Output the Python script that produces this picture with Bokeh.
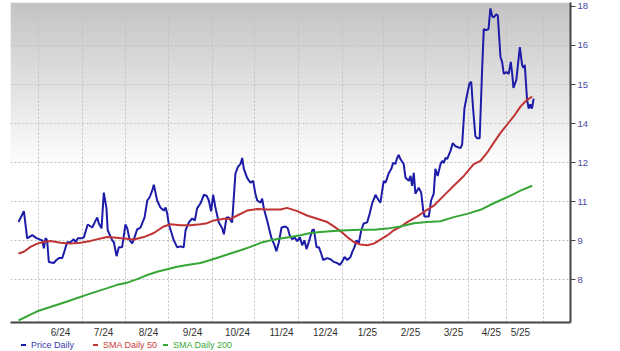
import numpy as np
from bokeh.plotting import figure
from bokeh.models import Range1d, FixedTicker, Div
from bokeh.layouts import column
from bokeh.embed import file_html
from bokeh.resources import INLINE

# ---- data (x = trading-day index, y = price) ----
price_day = [0, 2.6, 4.2, 6.7, 8.7, 11.5, 12.3, 13.1, 13.9, 14.7, 17.1, 18.4, 19.6, 21.2, 22.0, 23.6, 25.2, 26.8,
             27.7, 28.8, 30.9, 31.7, 33.6, 35.8, 37.0, 38.2, 39.0, 40.3, 41.4, 42.7, 43.3, 45.5, 46.3, 47.6, 48.7,
             50.3, 51.9, 52.8, 54.0, 55.2, 56.3, 57.6, 59.2, 61.2, 62.5, 63.6, 64.9, 65.7, 66.5, 67.3, 68.9, 70.5,
             71.4, 72.2, 73.0, 75.4, 77.0, 78.6, 80.2, 81.1, 82.7, 84.3, 85.6, 86.7, 88.3, 90.0, 91.3, 92.4, 93.5,
             94.5, 95.6, 97.2, 98.9, 99.7, 101.0, 102.1, 103.7, 105.3, 106.5, 107.8, 108.6, 109.4, 111.0, 112.6,
             113.9, 115.0, 115.9, 117.5, 118.3, 119.1, 120.7, 122.7, 124.3, 125.2, 126.4, 127.7, 129.6, 130.7,
             131.7, 132.9, 134.0, 135.3, 136.6, 137.7, 138.8, 139.8, 140.9, 142.6, 143.4, 144.7, 145.8, 146.9,
             147.9, 149.9, 151.5, 153.1, 154.7, 156.0, 157.1, 158.3, 159.6, 161.2, 162.0, 163.1, 164.1, 165.2,
             166.4, 167.6, 169.3, 170.5, 171.7, 173.3, 174.9, 175.7, 177.3, 178.2, 179.8, 181.0, 181.9, 183.0,
             183.8, 184.6, 185.4, 187.0, 187.9, 189.5, 190.3, 191.1, 191.9, 192.7, 194.3, 195.5, 196.5, 197.1,
             199.2, 200.3, 201.6, 202.4, 203.5, 204.9, 205.7, 206.5, 207.3, 208.1, 209.7, 210.8, 212.1, 214.6,
             215.4, 216.5, 217.8, 218.9, 219.8, 220.7, 221.8, 222.7, 223.9, 225.1, 225.9, 227.0, 228.2, 229.1,
             230.0, 230.7, 232.0, 232.7, 234.0, 234.8, 235.6, 236.9, 238.0, 239.0, 239.7, 240.3, 241.7, 243.4,
             244.5, 245.1, 245.8, 246.9, 247.7, 248.5, 249.3, 250.1]
price_val = [10.01, 10.41, 9.41, 9.53, 9.42, 9.34, 9.05, 9.42, 9.34, 8.55, 8.51, 8.62, 8.69, 8.69, 8.87, 9.27, 9.27,
             9.38, 9.27, 9.42, 9.42, 9.45, 9.92, 9.81, 10.00, 10.18, 9.96, 9.78, 11.09, 10.51, 9.71, 9.34, 9.27,
             8.76, 9.09, 9.09, 9.92, 9.78, 9.34, 9.23, 9.45, 9.74, 9.81, 10.18, 10.80, 10.91, 11.16, 11.38, 11.09,
             10.80, 10.54, 10.43, 10.54, 10.32, 9.92, 9.34, 9.09, 9.12, 9.09, 9.71, 10.00, 10.14, 10.07, 10.51,
             10.69, 11.01, 10.98, 10.80, 10.40, 11.01, 10.54, 10.00, 9.78, 9.56, 10.18, 10.18, 10.00, 11.78, 12.03,
             12.14, 12.36, 11.96, 11.63, 11.45, 11.52, 11.05, 10.80, 10.72, 10.87, 10.51, 10.07, 9.45, 9.16, 8.94,
             9.27, 9.81, 9.85, 9.78, 9.52, 9.38, 9.45, 9.31, 9.45, 9.16, 9.34, 9.02, 9.27, 9.71, 9.74, 9.09, 9.09,
             8.87, 8.62, 8.69, 8.65, 8.55, 8.51, 8.44, 8.55, 8.73, 8.62, 8.73, 8.91, 9.09, 9.34, 9.23, 9.71, 9.96,
             10.00, 10.32, 10.69, 11.01, 10.80, 10.72, 11.52, 11.45, 11.81, 11.96, 12.18, 12.14, 12.36, 12.47,
             12.32, 12.14, 11.63, 11.52, 11.70, 11.34, 11.81, 11.05, 11.27, 11.09, 10.43, 10.21, 10.21, 10.80,
             11.05, 11.96, 11.70, 12.14, 12.25, 12.18, 12.36, 12.32, 12.61, 12.90, 12.79, 12.72, 12.86, 14.17,
             14.68, 15.08, 15.15, 14.17, 13.16, 13.08, 13.08, 15.62, 17.08, 17.04, 17.08, 17.84, 17.55, 17.51,
             17.62, 17.58, 16.06, 15.88, 15.44, 15.51, 15.44, 15.88, 15.44, 14.93, 15.22, 16.42, 15.77, 15.66,
             15.77, 14.50, 14.17, 14.32, 14.17, 14.53]

sma50_day = [0, 2.6, 5.8, 9.1, 12.3, 15.5, 20.4, 25.2, 30.1, 35.0, 39.8, 43.1, 46.3, 51.1, 56.0, 60.8, 65.7, 70.5,
             73.8, 78.6, 83.5, 88.3, 91.6, 94.8, 99.7, 102.9, 106.2, 111.0, 115.9, 120.7, 127.2, 130.4, 135.3,
             140.1, 145.0, 149.9, 153.1, 156.3, 159.6, 162.8, 166.0, 169.3, 172.5, 175.7, 179.0, 182.2, 185.4,
             188.7, 193.5, 198.4, 201.6, 206.5, 211.3, 216.2, 221.0, 224.3, 227.5, 230.7, 234.0, 237.2, 240.4,
             243.7, 246.9, 249.4]
sma50_val = [8.86, 8.92, 9.10, 9.22, 9.28, 9.32, 9.25, 9.22, 9.25, 9.32, 9.41, 9.46, 9.44, 9.41, 9.37, 9.46, 9.61,
             9.85, 9.93, 9.89, 9.89, 9.93, 9.97, 10.07, 10.13, 10.13, 10.25, 10.43, 10.49, 10.47, 10.47, 10.53,
             10.41, 10.25, 10.13, 10.01, 9.85, 9.68, 9.46, 9.28, 9.19, 9.16, 9.22, 9.37, 9.52, 9.71, 9.83, 10.01,
             10.21, 10.46, 10.61, 10.98, 11.34, 11.70, 12.13, 12.25, 12.55, 12.91, 13.28, 13.58, 13.88, 14.24,
             14.49, 14.61]

sma200_day = [0, 4.2, 9.1, 13.9, 18.8, 23.6, 28.5, 33.3, 38.2, 43.1, 47.9, 52.8, 57.6, 62.5, 67.3, 72.2, 77.0,
              81.9, 88.3, 93.2, 98.1, 102.9, 107.8, 112.6, 117.5, 122.3, 127.2, 132.0, 136.9, 141.7, 146.6, 153.1,
              159.6, 166.0, 172.5, 179.0, 185.4, 191.9, 198.4, 204.9, 211.3, 217.8, 224.3, 230.7, 237.2, 243.7,
              249.4]
sma200_val = [6.41, 6.56, 6.74, 6.86, 6.98, 7.10, 7.23, 7.35, 7.47, 7.59, 7.71, 7.79, 7.92, 8.07, 8.19, 8.28, 8.37,
              8.44, 8.51, 8.62, 8.74, 8.86, 8.98, 9.10, 9.25, 9.34, 9.41, 9.46, 9.53, 9.61, 9.65, 9.68, 9.71, 9.73,
              9.73, 9.77, 9.85, 9.97, 10.01, 10.04, 10.19, 10.31, 10.46, 10.70, 10.92, 11.16, 11.34]

# month boundaries (grid) and month label positions on the trading-day axis
month_grid = [9.7, 31.1, 51.9, 72.8, 94.2, 114.6, 135.9, 157.3, 177.2, 197.6, 218.4, 236.9, 254.9]
month_label_pos = [20.4, 41.3, 63.1, 84.5, 106.3, 127.7, 149.0, 169.4, 190.3, 211.2, 229.6, 243.7]
month_labels = ["6/24", "7/24", "8/24", "9/24", "10/24", "11/24", "12/24", "1/25", "2/25", "3/25", "4/25", "5/25"]

y_tick_pos = [7.9, 9.33, 10.76, 12.19, 13.62, 15.05, 16.48, 17.91]
y_tick_labels = ["8", "9", "11", "12", "14", "15", "16", "18"]

legend_labels = ["Price Daily", "SMA Daily 50", "SMA Daily 200"]

FONT = "Liberation Sans"
BLUE = "#1c1ca8"
RED = "#c03434"
GREEN = "#36a636"
LINE_COLS = [BLUE, RED, GREEN]
TEXT_COLS = ["#3a3ab0", "#cc3c3c", "#3aa83a"]

Y_TOP = 18.055
p = figure(width=620, height=340, output_backend="svg", toolbar_location=None,
           x_range=Range1d(-3.9, 268.0), y_range=Range1d(6.33, Y_TOP),
           y_axis_location="right", min_border_left=10, min_border_right=50,
           min_border_top=2, min_border_bottom=17, margin=0)
p.outline_line_color = None
p.background_fill_color = "white"
p.border_fill_color = "white"

# gradient background (grey at the top fading to white)
n = 80
grey = np.linspace(255, 196, n).astype(np.uint32)
img = np.empty((n, 1), dtype=np.uint32)
view = img.view(dtype=np.uint8).reshape((n, 1, 4))
view[:, 0, 0] = grey
view[:, 0, 1] = grey
view[:, 0, 2] = grey
view[:, 0, 3] = 255
y_fade = 12.0
p.image_rgba(image=[img], x=-3.9, y=y_fade, dw=271.9, dh=Y_TOP - y_fade, level="image")

r_price = p.line(price_day, price_val, line_color=BLUE, line_width=2)
r_50 = p.line(sma50_day, sma50_val, line_color=RED, line_width=2)
r_200 = p.line(sma200_day, sma200_val, line_color=GREEN, line_width=2)

# axes
xa = p.xaxis[0]
xa.ticker = FixedTicker(ticks=month_label_pos)
xa.major_label_overrides = {v: l for v, l in zip(month_label_pos, month_labels)}
xa.major_tick_out = 0
xa.major_tick_in = 0
xa.minor_tick_out = 0
xa.minor_tick_in = 0
xa.axis_line_color = "#444444"
xa.axis_line_width = 2
xa.major_label_text_font = FONT
xa.major_label_text_font_size = "10px"
xa.major_label_text_color = "#333333"
xa.major_label_standoff = 4

ya = p.yaxis[0]
ya.ticker = FixedTicker(ticks=y_tick_pos)
ya.major_label_overrides = {v: l for v, l in zip(y_tick_pos, y_tick_labels)}
ya.major_tick_out = 5
ya.major_tick_in = 0
ya.minor_tick_out = 0
ya.minor_tick_in = 0
ya.major_tick_line_color = "#444444"
ya.axis_line_color = "#444444"
ya.axis_line_width = 2
ya.major_label_text_font = FONT
ya.major_label_text_font_size = "9.5px"
ya.major_label_text_color = "#4848a8"
ya.major_label_standoff = 2

p.xgrid.ticker = FixedTicker(ticks=month_grid)
for g in (p.xgrid[0], p.ygrid[0]):
    g.grid_line_color = "#c0c0c0"
    g.grid_line_dash = "2 2"
    g.grid_line_width = 1

# legend row below the chart
dash_left = [21, 93, 163]
parts = []
for lab, lc, tc, dl in zip(legend_labels, LINE_COLS, TEXT_COLS, dash_left):
    parts.append(
        f'<span style="position:absolute;left:{dl}px;top:3px;width:5px;height:2px;background:{lc}"></span>'
        f'<span style="position:absolute;left:{dl + 10}px;top:0px;line-height:8px;color:{tc}">{lab}</span>'
    )
legend_html = (f'<div style="position:relative;width:620px;height:11px;font-family:\'{FONT}\';'
               f'font-size:9px;white-space:nowrap">' + "".join(parts) + "</div>")
legend_div = Div(text=legend_html, width=620, height=11, margin=0)

layout = column(p, legend_div, spacing=0, margin=0)
open("out.html", "w").write(file_html(layout, INLINE))
